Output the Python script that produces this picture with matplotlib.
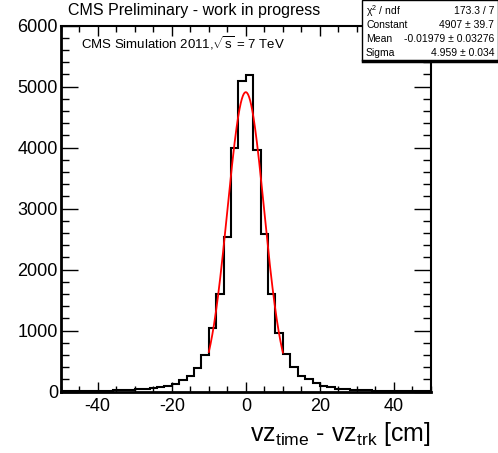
import matplotlib
matplotlib.use("Agg")
import matplotlib.pyplot as plt
import numpy as np
from matplotlib.patches import Rectangle
from matplotlib.ticker import MultipleLocator

plt.rcParams["font.family"] = ["Liberation Sans", "DejaVu Sans"]
plt.rcParams["mathtext.fontset"] = "custom"
plt.rcParams["mathtext.rm"] = "Liberation Sans"
plt.rcParams["mathtext.it"] = "Liberation Sans:italic"
plt.rcParams["axes.unicode_minus"] = False

# histogram of vz_time - vz_trk, 50 bins of 2 cm from -50 to 50
bin_lo, bin_hi, bin_w = -50, 50, 2
counts = [4, 5, 6, 8, 10, 12, 15, 20, 25, 30, 38, 45, 55, 69, 95, 128, 189, 259, 390, 598,
          1041, 1598, 2538, 3997, 5085,
          5189, 3959, 2577, 1598, 954, 610, 407, 254, 205, 134, 90, 69, 46, 36, 30,
          24, 18, 14, 11, 9, 7, 6, 5, 4, 3]

# gaussian fit (stats box values), fit range
fit_const, fit_mean, fit_sigma = 4907, -0.01979, 4.959
fit_range = (-10, 10)
stat_labels = ["χ$^2$ / ndf", "Constant", "Mean", "Sigma"]
stat_values = ["173.3 / 7", "4907 ± 39.7", "-0.01979 ± 0.03276", "4.959 ± 0.034"]

W, H = 498, 453
fig = plt.figure(figsize=(W/100, H/100), dpi=100)
ax = fig.add_axes([60.7/W, 1-391.5/H, (431-60.7)/W, (391.5-25.5)/H])

edges = np.arange(bin_lo, bin_hi + bin_w, bin_w)
ax.stairs(counts, edges, color="black", lw=1.5)
xf = np.linspace(*fit_range, 300)
ax.plot(xf, fit_const*np.exp(-0.5*((xf-fit_mean)/fit_sigma)**2), color="red", lw=1.3)

ax.set_xlim(bin_lo, bin_hi); ax.set_ylim(0, 6000)
ax.xaxis.set_major_locator(MultipleLocator(20)); ax.xaxis.set_minor_locator(MultipleLocator(5))
ax.yaxis.set_major_locator(MultipleLocator(1000)); ax.yaxis.set_minor_locator(MultipleLocator(200))
ax.tick_params(which="both", direction="in", top=True, right=True, labelsize=13, width=1)
ax.tick_params(axis="y", which="major", length=12, pad=2)
ax.tick_params(axis="y", which="minor", length=6)
ax.tick_params(axis="x", which="major", length=7, pad=5)
ax.tick_params(axis="x", which="minor", length=4)
for s in ["left", "bottom"]: ax.spines[s].set_linewidth(2)
for s in ["top", "right"]: ax.spines[s].set_linewidth(1.5)

fig.text(431/W, 1-434/H, r"vz$_{\rm time}$ - vz$_{\rm trk}$ [cm]", ha="right", va="center", fontsize=18)
fig.text(68/W, 1-10/H, "CMS Preliminary - work in progress", ha="left", va="center", fontsize=11.5)
fig.text(81/W, 1-43/H, r"CMS Simulation 2011,$\sqrt{\mathrm{s}}$ = 7 TeV", ha="left", va="center", fontsize=9.5)

# stats box
fig.patches.append(Rectangle((362/W, 1-61/H), (W-362)/W, 61/H, transform=fig.transFigure,
                             facecolor="white", edgecolor="black", lw=1, zorder=5))
fig.add_artist(plt.Line2D([363/W, 1], [1-61/H, 1-61/H], color="black", lw=2.5, zorder=6))
for i, (lab, val) in enumerate(zip(stat_labels, stat_values)):
    y = 1-(11.5+14*i)/H
    fig.text(366/W, y, lab, ha="left", va="center", fontsize=7.5, zorder=7)
    fig.text(494/W, y, val, ha="right", va="center", fontsize=7.5, zorder=7)

fig.savefig("out.png", dpi=100)
